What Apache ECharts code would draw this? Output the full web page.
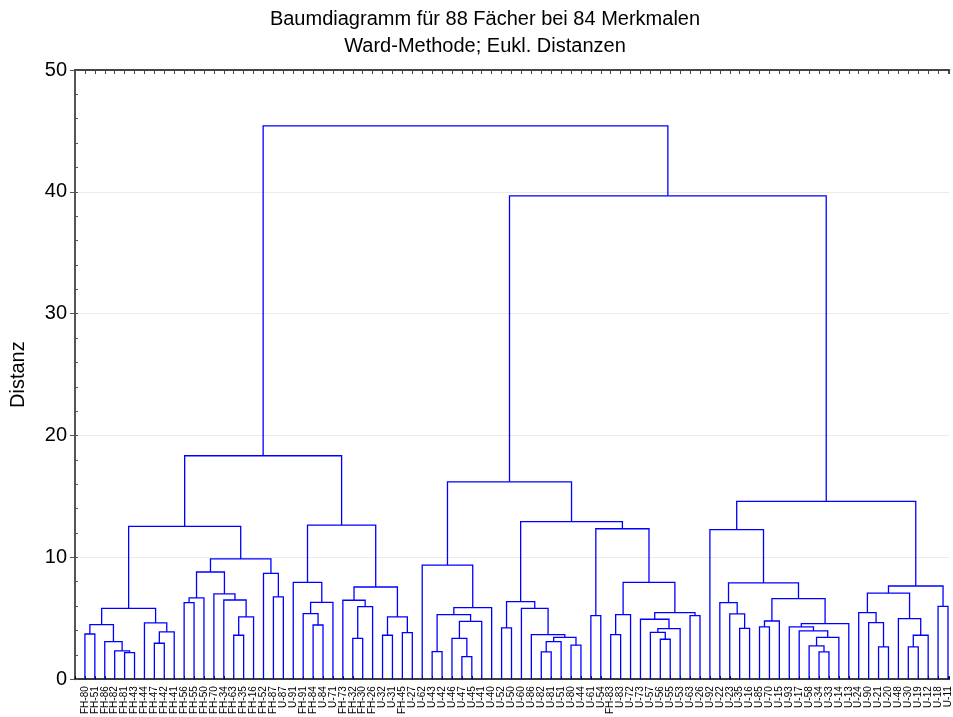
<!DOCTYPE html>
<html>
<head>
<meta charset="utf-8">
<script src="https://cdn.jsdelivr.net/npm/echarts@6/dist/echarts.min.js"></script>
<style>
html,body{margin:0;padding:0;background:#fff;}
#chart{width:953px;height:717px;}
</style>
</head>
<body>
<div id="chart"></div>
<script>
// Leaf labels, left to right
const leaves = ['FH-80','FH-51','FH-86','FH-82','FH-81','FH-43','FH-44','FH-47','FH-42','FH-41',
  'FH-56','FH-55','FH-50','FH-70','FH-34','FH-63','FH-35','FH-16','FH-52','FH-87',
  'U-87','U-91','FH-91','FH-84','U-84','U-71','FH-73','FH-32','FH-30','FH-26',
  'U-32','U-31','FH-45','U-27','U-62','U-43','U-42','U-46','U-47','U-45',
  'U-41','U-40','U-52','U-50','U-60','U-86','U-82','U-81','U-51','U-80',
  'U-44','U-61','U-54','FH-83','U-83','U-72','U-73','U-57','U-56','U-55',
  'U-53','U-63','U-26','U-92','U-22','U-23','U-35','U-16','U-85','U-70',
  'U-15','U-93','U-17','U-58','U-34','U-33','U-14','U-13','U-24','U-90',
  'U-21','U-20','U-48','U-30','U-19','U-12','U-18','U-11'];

// Merges: [left, right, distance]; a string is a leaf, a number is an earlier merge index
const mergesLeft = [
  ['FH-80','FH-51',3.71], ['FH-81','FH-43',2.19], ['FH-82',1,2.32], ['FH-86',2,3.09],
  [0,3,4.48], ['FH-47','FH-42',2.95], [5,'FH-41',3.88], ['FH-44',6,4.62],
  [4,7,5.82], ['FH-56','FH-55',6.28], [9,'FH-50',6.67], ['FH-63','FH-35',3.61],
  [11,'FH-16',5.11], ['FH-34',12,6.5], ['FH-70',13,7.0], [10,14,8.8],
  ['FH-87','U-87',6.75], ['FH-52',16,8.69], [15,17,9.87], [8,18,12.55],
  ['FH-84','U-84',4.45], ['FH-91',20,5.38], [21,'U-71',6.31], ['U-91',22,7.95],
  ['FH-32','FH-30',3.36], [24,'FH-26',5.96], ['FH-73',25,6.48], ['U-32','U-31',3.61],
  ['FH-45','U-27',3.82], [27,28,5.11], [26,29,7.57], [23,30,12.65], [19,31,18.34]
];
const mergesMiddle = [
  ['U-43','U-42',2.27], ['U-47','U-45',1.86], ['U-46',34,3.36], [35,'U-41',4.75],
  [33,36,5.3], [37,'U-40',5.87], ['U-62',38,9.37], ['U-52','U-50',4.21],
  ['U-82','U-81',2.24], [41,'U-51',3.09], ['U-80','U-44',2.79], [42,43,3.44],
  ['U-86',44,3.66], ['U-60',45,5.82], [40,46,6.36], ['U-61','U-54',5.22],
  ['FH-83','U-83',3.66], [49,'U-72',5.3], ['U-56','U-55',3.28], ['U-57',51,3.85],
  [52,'U-53',4.15], ['U-73',53,4.92], ['U-63','U-26',5.22], [54,55,5.46],
  [50,56,7.95], [48,57,12.35], [47,58,12.93], [39,59,16.2]
];
const mergesRight = [
  ['U-35','U-16',4.18], ['U-23',61,5.36], ['U-22',62,6.28], ['U-85','U-70',4.29],
  [64,'U-15',4.78], ['U-34','U-33',2.24], ['U-58',66,2.73], [67,'U-14',3.44],
  ['U-17',68,3.96], ['U-93',69,4.29], [70,'U-13',4.56], [65,71,6.61],
  [63,72,7.9], ['U-92',73,12.27], ['U-21','U-20',2.65], ['U-90',75,4.64],
  ['U-24',76,5.46], ['U-30','U-19',2.65], [78,'U-12',3.61], ['U-48',79,4.97],
  [77,80,7.07], ['U-18','U-11',5.98], [81,82,7.65], [74,83,14.59]
];
const mergesTop = [[60,84,39.67], [32,85,45.41]];

const titleLines = ['Baumdiagramm für 88 Fächer bei 84 Merkmalen', 'Ward-Methode; Eukl. Distanzen'];
const yAxisName = 'Distanz';

const merges = mergesLeft.concat(mergesMiddle, mergesRight, mergesTop);
const leafPos = {};
leaves.forEach((l, i) => { leafPos[l] = { x: i + 1, h: 0 }; });
const nodes = [];
const ref = r => (typeof r === 'number' ? nodes[r] : leafPos[r]);
const segs = [];
merges.forEach(([a, b, h]) => {
  const A = ref(a), B = ref(b);
  segs.push({ coords: [[A.x, A.h], [A.x, h], [B.x, h], [B.x, B.h]] });
  nodes.push({ x: (A.x + B.x) / 2, h: h });
});

const FONT = 'Liberation Sans, Arial, sans-serif';
const chart = echarts.init(document.getElementById('chart'), null, { renderer: 'canvas' });
const xMax = 88.13;
chart.setOption({
  animation: false,
  backgroundColor: '#fff',
  textStyle: { fontFamily: FONT },
  graphic: [
    { type: 'text', x: 485, y: 19, style: { text: titleLines[0], font: '20px ' + FONT, fill: '#000', align: 'center', verticalAlign: 'middle' } },
    { type: 'text', x: 485, y: 46, style: { text: titleLines[1], font: '20px ' + FONT, fill: '#000', align: 'center', verticalAlign: 'middle' } }
  ],
  grid: { left: 75, top: 70, width: 878, height: 610, containLabel: false },
  xAxis: [
    {
      type: 'value', position: 'bottom', min: 0, max: xMax, interval: 1,
      axisLine: { show: true, onZero: false, lineStyle: { color: '#000', width: 1.5 } },
      axisTick: { show: true, inside: true, length: 3, lineStyle: { color: '#000' } },
      axisLabel: {
        show: true, rotate: 90, fontSize: 10, margin: 7, color: '#000', fontFamily: FONT,
        formatter: v => (Number.isInteger(v) && v >= 1 && v <= leaves.length) ? leaves[v - 1] : ''
      },
      splitLine: { show: false }
    },
    {
      type: 'value', position: 'top', min: 0, max: xMax, interval: 1,
      axisLine: { show: true, onZero: false, lineStyle: { color: '#444', width: 2 } },
      axisTick: { show: true, inside: true, length: 4, lineStyle: { color: '#444' } },
      axisLabel: { show: false },
      splitLine: { show: false }
    }
  ],
  yAxis: [
    {
      type: 'value', min: 0, max: 50, interval: 10, position: 'left',
      name: yAxisName, nameLocation: 'middle', nameGap: 47,
      nameTextStyle: { fontSize: 20, color: '#000', fontFamily: FONT },
      axisLine: { show: true, onZero: false, lineStyle: { color: '#555', width: 2 } },
      axisTick: { show: true, inside: true, length: 3, lineStyle: { color: '#555' } },
      minorTick: { show: true, splitNumber: 5, length: 3, lineStyle: { color: '#555' } },
      axisLabel: { fontSize: 20, color: '#000', margin: 8, fontFamily: FONT },
      splitLine: { show: true, lineStyle: { color: '#ebebeb', width: 1 } }
    },
    {
      type: 'value', min: 0, max: 50, interval: 10, position: 'left', offset: 0,
      axisLine: { show: false, onZero: false },
      axisTick: { show: true, inside: false, length: 5, lineStyle: { color: '#555' } },
      axisLabel: { show: false },
      splitLine: { show: false }
    }
  ],
  series: [{
    type: 'lines', coordinateSystem: 'cartesian2d', xAxisIndex: 0, yAxisIndex: 0,
    polyline: true, silent: true,
    lineStyle: { color: '#0000ff', width: 1.3, opacity: 1 },
    data: segs
  }]
});
</script>
</body>
</html>
